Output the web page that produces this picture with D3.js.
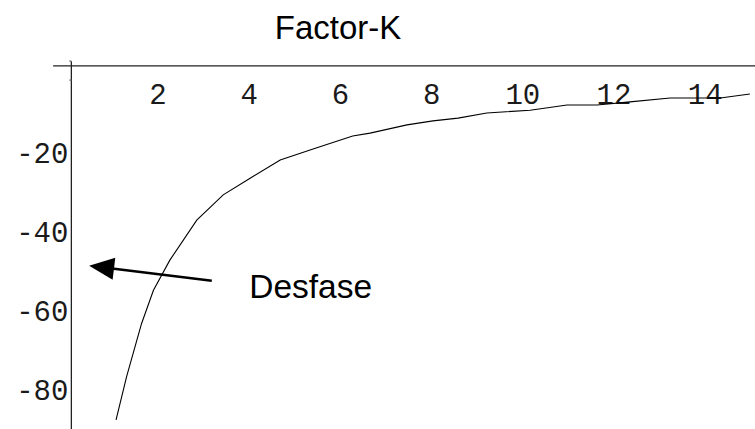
<!DOCTYPE html>
<html>
<head>
<meta charset="utf-8">
<script src="https://cdn.jsdelivr.net/npm/d3@7/dist/d3.min.js"></script>
<style>
  body { margin: 0; background: #fff; }
  svg { display: block; }
  .tick-label { font-family: "Liberation Mono", "Courier New", monospace; font-size: 29px; fill: #1a1a1a; }
  .title, .note { font-family: "Liberation Sans", Arial, sans-serif; fill: #000; }
</style>
</head>
<body>
<div id="chart-area"></div>
<script>
// curve values (Factor-K vs phase)
let kValues = [1.08, 1.31, 1.64, 1.90, 2.26, 2.85, 3.43, 4.02, 4.68, 5.45, 6.27, 6.65, 7.46, 8.03, 8.58, 9.21, 10.16, 10.97, 11.63, 12.35, 13.23, 14.33, 14.98];
let phaseValues = [-87.4, -76.5, -63.0, -54.6, -47.0, -36.9, -30.5, -26.3, -21.7, -18.7, -15.6, -14.9, -12.8, -11.8, -11.1, -9.8, -9.1, -7.8, -7.8, -7.0, -6.0, -6.0, -5.0];

let xTicks = [2, 4, 6, 8, 10, 12, 14];
let yTicks = [-20, -40, -60, -80];

// where the axes cross, in data units
let axisOrigin = [0.1, 2.1];

// annotation arrow: tail -> head, in data units
let arrowTail = [3.18, -52.2];
let arrowHead = [0.49, -48.4];
let noteText = "Desfase";
let notePos = [4.0, -56.6];
let titleText = "Factor-K";

let width = 755, height = 429;

let svg = d3.select("#chart-area").append("svg")
	.attr("width", width)
	.attr("height", height);

let x = d3.scaleLinear()
	.domain([0, 14])
	.range([66.8, 705.2]);

let y = d3.scaleLinear()
	.domain([0, -80])
	.range([74.2, 390.7]);

let ax = x(axisOrigin[0]),
	ay = y(axisOrigin[1]);

// axes (Mathematica style, ticks hardly visible)
svg.append("line")
	.attr("x1", x(-0.3)).attr("x2", width)
	.attr("y1", ay).attr("y2", ay)
	.attr("stroke", "#222").attr("stroke-width", 1.3);

svg.append("line")
	.attr("x1", ax).attr("x2", ax)
	.attr("y1", y(3.3)).attr("y2", height)
	.attr("stroke", "#222").attr("stroke-width", 1.3);

// tiny stubs on the vertical axis
svg.selectAll(".stub").data([3.3, -1.5])
	.enter().append("line")
	.attr("class", "stub")
	.attr("x1", ax - 2).attr("x2", ax)
	.attr("y1", d => y(d)).attr("y2", d => y(d))
	.attr("stroke", "#777").attr("stroke-width", 1.5);

// tick labels
svg.selectAll(".x-label").data(xTicks)
	.enter().append("text")
	.attr("class", "tick-label x-label")
	.attr("x", d => x(d))
	.attr("y", ay + 38)
	.attr("text-anchor", "middle")
	.text(d => d);

svg.selectAll(".y-label").data(yTicks)
	.enter().append("text")
	.attr("class", "tick-label y-label")
	.attr("x", ax - 3)
	.attr("y", d => y(d) + 9.5)
	.attr("text-anchor", "end")
	.text(d => "-" + Math.abs(d));

// the curve
let line = d3.line()
	.x((d, i) => x(kValues[i]))
	.y(d => y(d));

svg.append("path")
	.datum(phaseValues)
	.attr("d", line)
	.attr("fill", "none")
	.attr("stroke", "#000")
	.attr("stroke-width", 1.1);

// title
svg.append("text")
	.attr("class", "title")
	.attr("x", 338)
	.attr("y", 39)
	.attr("text-anchor", "middle")
	.attr("font-size", 33)
	.text(titleText);

// arrow + note
let tx = x(arrowTail[0]), ty = y(arrowTail[1]),
	hx = x(arrowHead[0]), hy = y(arrowHead[1]);
let len = Math.hypot(hx - tx, hy - ty),
	ux = (hx - tx) / len, uy = (hy - ty) / len;
let headLen = 25, headW = 11;
let bx = hx - ux * headLen, by = hy - uy * headLen;

svg.append("line")
	.attr("x1", tx).attr("y1", ty)
	.attr("x2", bx + ux * 2).attr("y2", by + uy * 2)
	.attr("stroke", "#000")
	.attr("stroke-width", 2.6);

svg.append("polygon")
	.attr("points", [
		[hx, hy],
		[bx - uy * headW, by + ux * headW],
		[bx + uy * headW, by - ux * headW]
	].map(p => p.join(",")).join(" "))
	.attr("fill", "#000");

svg.append("text")
	.attr("class", "note")
	.attr("x", x(notePos[0]))
	.attr("y", y(notePos[1]))
	.attr("font-size", 33.5)
	.text(noteText);
</script>
</body>
</html>
